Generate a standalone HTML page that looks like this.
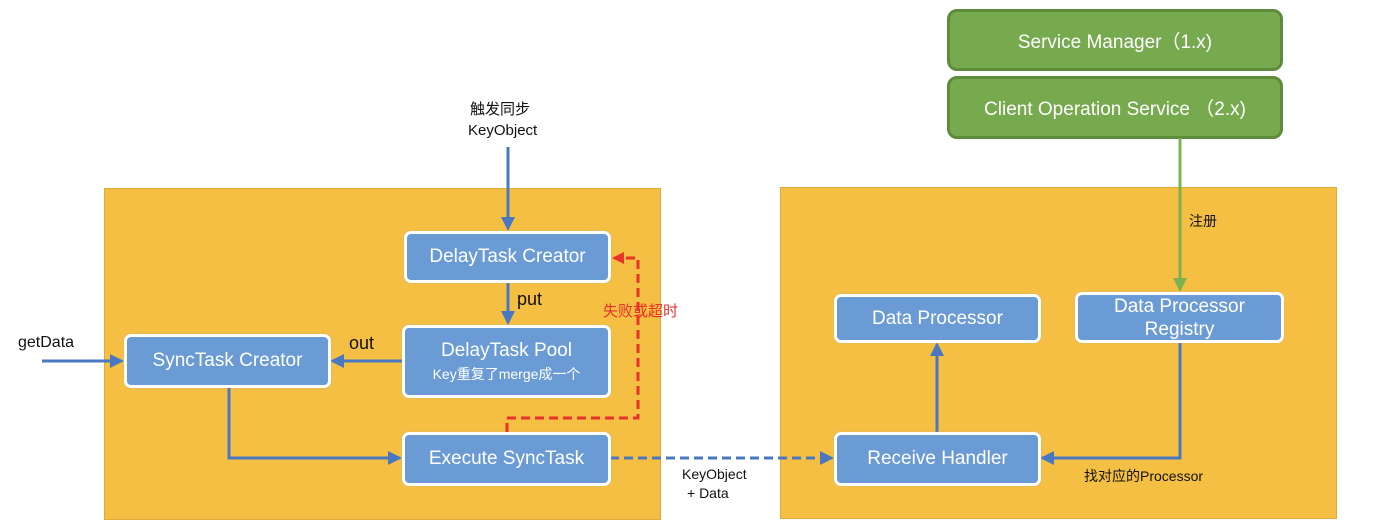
<!DOCTYPE html>
<html><head><meta charset="utf-8"><style>
body{margin:0;width:1386px;height:529px;background:#fff;position:relative;overflow:hidden;font-family:"Liberation Sans","Noto Sans CJK SC",sans-serif}
.y{position:absolute;background:#f4bf42;border:1px solid #e0a93a}
.b{position:absolute;background:#6a9bd4;border:3px solid #fff;border-radius:7px;color:#fff;display:flex;flex-direction:column;align-items:center;justify-content:center;font-size:19px;box-sizing:border-box;box-shadow:0 0 1px #aaa}
.g{position:absolute;background:#77a94f;border:3px solid #5d8c3b;border-radius:10px;color:#fff;display:flex;align-items:center;justify-content:center;font-size:19px;box-sizing:border-box}
.t{position:absolute;font-size:15px;color:#111;white-space:nowrap}
</style></head><body>
<div class="y" style="left:104px;top:188px;width:555px;height:330px"></div>
<div class="y" style="left:780px;top:187px;width:555px;height:330px"></div>
<div class="g" style="left:947px;top:9px;width:336px;height:62px">Service Manager（1.x)</div>
<div class="g" style="left:947px;top:76px;width:336px;height:63px">Client Operation Service （2.x)</div>
<svg width="1386" height="529" style="position:absolute;left:0;top:0">
<defs>
<marker id="ab" markerWidth="14" markerHeight="14" refX="12" refY="7" orient="auto" markerUnits="userSpaceOnUse"><path d="M0,0 L14,7 L0,14z" fill="#4a78c0"/></marker>
<marker id="ar" markerWidth="12" markerHeight="12" refX="10" refY="6" orient="auto" markerUnits="userSpaceOnUse"><path d="M0,0 L12,6 L0,12z" fill="#e8322a"/></marker>
<marker id="ag" markerWidth="14" markerHeight="14" refX="12" refY="7" orient="auto" markerUnits="userSpaceOnUse"><path d="M0,0 L14,7 L0,14z" fill="#7cb24f"/></marker>
</defs>
<g stroke="#4a78c0" stroke-width="3" fill="none">
<path d="M508 147 V229" marker-end="url(#ab)"/>
<path d="M508 282 V323" marker-end="url(#ab)"/>
<path d="M402 361 H332" marker-end="url(#ab)"/>
<path d="M42 361 H122" marker-end="url(#ab)"/>
<path d="M229 387 V458 H400" marker-end="url(#ab)"/>
<path d="M937 433 V344" marker-end="url(#ab)"/>
<path d="M1180 342 V458 H1042" marker-end="url(#ab)"/>
<path d="M610 458 H832" stroke-dasharray="9 5" marker-end="url(#ab)"/>
</g>
<path d="M507 432 V418 H638 V258 H614" stroke="#e8322a" stroke-width="3" fill="none" stroke-dasharray="9 5" marker-end="url(#ar)"/>
<path d="M1180 138 V290" stroke="#7cb24f" stroke-width="3" fill="none" marker-end="url(#ag)"/>
</svg>
<div class="b" style="left:404px;top:231px;width:207px;height:52px">DelayTask Creator</div>
<div class="b" style="left:402px;top:325px;width:209px;height:73px"><div>DelayTask Pool</div><div style="font-size:14px;margin-top:2px">Key重复了merge成一个</div></div>
<div class="b" style="left:124px;top:334px;width:207px;height:54px">SyncTask Creator</div>
<div class="b" style="left:402px;top:432px;width:209px;height:54px">Execute SyncTask</div>
<div class="b" style="left:834px;top:294px;width:207px;height:49px">Data Processor</div>
<div class="b" style="left:1075px;top:292px;width:209px;height:51px;line-height:23px;overflow:hidden"><div>Data Processor</div><div>Registry</div></div>
<div class="b" style="left:834px;top:432px;width:207px;height:54px">Receive Handler</div>
<div class="t" style="left:470px;top:98px">触发同步</div>
<div class="t" style="left:468px;top:122px">KeyObject</div>
<div class="t" style="left:517px;top:289px;font-size:18px">put</div>
<div class="t" style="left:349px;top:333px;font-size:18px">out</div>
<div class="t" style="left:18px;top:334px;font-size:16px">getData</div>
<div class="t" style="left:603px;top:300px;color:#e8322a">失败或超时</div>
<div class="t" style="left:682px;top:466px;font-size:14px">KeyObject</div>
<div class="t" style="left:687px;top:485px;font-size:14px">+ Data</div>
<div class="t" style="left:1189px;top:211px;font-size:14px">注册</div>
<div class="t" style="left:1084px;top:466px;font-size:14px">找对应的Processor</div>
</body></html>
